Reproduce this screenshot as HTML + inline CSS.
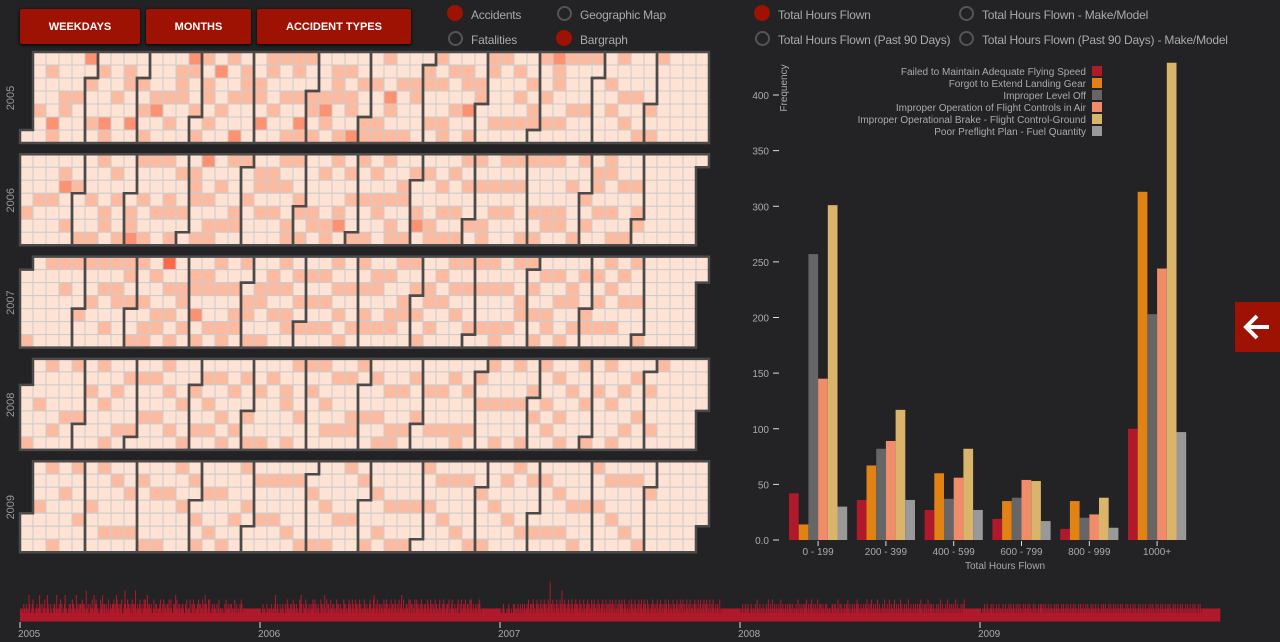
<!DOCTYPE html>
<html><head><meta charset="utf-8">
<style>
html,body{margin:0;padding:0;background:#232325;width:1280px;height:642px;overflow:hidden;font-family:"Liberation Sans",sans-serif;}
.btn{position:absolute;top:9px;height:35px;background:#9e1203;color:#fff;font-weight:bold;font-size:11px;display:flex;align-items:center;justify-content:center;border-radius:2px;box-shadow:0 1px 3px #000;}
.radio{position:absolute;font-size:12px;color:#aaa;letter-spacing:-0.2px;}
.radio i{position:absolute;left:-23px;top:-2px;width:13px;height:13px;border-radius:50%;box-sizing:border-box;}
.on i{background:#9e1203;width:16px;height:16px;left:-24px;top:-3px;}
.off i{border:2px solid #555;width:15px;height:15px;top:-2px;}
</style></head><body>
<div class="btn" style="left:20px;width:120px">WEEKDAYS</div>
<div class="btn" style="left:146px;width:105px">MONTHS</div>
<div class="btn" style="left:257px;width:154px">ACCIDENT TYPES</div>
<div class="radio on" style="left:471px;top:8px"><i></i>Accidents</div>
<div class="radio off" style="left:580px;top:8px"><i></i>Geographic Map</div>
<div class="radio off" style="left:471px;top:33px"><i></i>Fatalities</div>
<div class="radio on" style="left:580px;top:33px"><i></i>Bargraph</div>
<div class="radio on" style="left:778px;top:8px"><i></i>Total Hours Flown</div>
<div class="radio off" style="left:982px;top:8px"><i></i>Total Hours Flown - Make/Model</div>
<div class="radio off" style="left:778px;top:33px"><i></i>Total Hours Flown (Past 90 Days)</div>
<div class="radio off" style="left:982px;top:33px"><i></i>Total Hours Flown (Past 90 Days) - Make/Model</div>
<div style="position:absolute;left:1235px;top:302px;width:45px;height:50px;background:#9e1203;">
<svg width="45" height="50"><path d="M34 25H12M22 14L11 25L22 36" stroke="#fff" stroke-width="4" fill="none"/></svg></div>
<svg id="main" width="1280" height="642" style="position:absolute;left:0;top:0;pointer-events:none"></svg>
<script>
const years=[2005,2006,2007,2008,2009];
const dailyLevels=[
"2212132213212531123421122312252311322412153211321123312521232413112352211232312433221532132331432321622311322421523432211243251331232142132233423154321332411236322433213241332612322342131243422532322311242133212234123142321332412421133252421332123321132412224113241321232431322413253321424112321322131241221221132412322313221242131221324312",
"2112312211321221231221352132113212321132143221332142312321124353113224312132132243142312321143321352141332142231321243132132212431322134232142312433213423122143213221343122452132421331232142324312321423312432132412352142123321424131322413423213242312332142312423132241322134221324321233142123422132213411324213324123321424213212321324321",
"2112132111212321121132312213212312312321232421323143221342312342231432312432813241321342321432613243213242312432132432312431321432132431322413243213241321324132142313241324132142132413243214321321421342312432132413242134231242312132413223142132413213242312431232142321342132413241321342132412321342312421342132413241321421324212312321421",
"1212312132123211232122132142213122132121321421321421321321231242132123213213232131221321421321321323242132132421321321421313213212313212212133213321242131321213213242131213213213423121322132132421321342132132142131221321421231242132213421321321423121321321421231213213213213242131231321421323213212132132142131221321421321321321421321213213242",
"2112123121321212321321213212312212312132121321321231213213213212131232123213212132132121321323213213212312132121321321321213213212312312132123213212132132123121321321213213212312132121321321321213213212312312132123213212132132123121321321213213212312132121321321321213213212312312132123213212132132123121321321213213212312132132121321321"
];
const barCategories=["0 - 199","200 - 399","400 - 599","600 - 799","800 - 999","1000+"];
const seriesNames=["Failed to Maintain Adequate Flying Speed","Forgot to Extend Landing Gear","Improper Level Off","Improper Operation of Flight Controls in Air","Improper Operational Brake - Flight Control-Ground","Poor Preflight Plan - Fuel Quantity"];
const seriesSpeed=[42,36,27,19,10,100];
const seriesGear=[14,67,60,35,35,313];
const seriesLevelOff=[257,82,37,38,20,203];
const seriesControls=[145,89,56,54,23,244];
const seriesBrake=[301,117,82,53,38,429];
const seriesFuel=[30,36,27,17,11,97];
const yTicks=[0,50,100,150,200,250,300,350,400];
const yTickLabels=["0.0","50","100","150","200","250","300","350","400"];

const NS="http://www.w3.org/2000/svg";
const svg=document.getElementById('main');
function mk(tag,attrs,parent){const e=document.createElementNS(NS,tag);for(const k in attrs)e.setAttribute(k,attrs[k]);(parent||svg).appendChild(e);return e;}
function shade(v){return v<=2?"#fee2d4":v<=4?"#fcbba1":v<=6?"#fc9272":"#fb6a4a";}
const cs=13,calX=20;
const allDays=[];
years.forEach((yr,i)=>{
  const top=52+i*102.3;
  const g=mk('g',{transform:`translate(${calX},${top})`});
  
  
  const t=mk('text',{x:-calX+14,y:46,fill:'#999','font-size':11,'text-anchor':'middle',transform:`rotate(-90 ${-calX+14} 46)`},g);
  t.textContent=yr;
  
  
  const jan1=new Date(Date.UTC(yr,0,1));const off=jan1.getUTCDay();
  const ndays=(yr%4==0)?366:365;
  const str=dailyLevels[i];
  for(let d=0;d<ndays;d++){
    const v=d<str.length?+str[d]:2;
    allDays.push(v);
    const wd=(off+d)%7, wk=Math.floor((off+d)/7);
    const r=mk('rect',{x:wk*cs,y:wd*cs,width:cs,height:cs,fill:shade(v),stroke:'#ccc','stroke-width':1},g);
    
    
  }
  for(let m=0;m<12;m++){
    const t0=new Date(Date.UTC(yr,m,1)),t1=new Date(Date.UTC(yr,m+1,0));
    const doy=x=>Math.round((x-jan1)/864e5);
    const d0=t0.getUTCDay(),w0=Math.floor((off+doy(t0))/7),d1=t1.getUTCDay(),w1=Math.floor((off+doy(t1))/7);
    const p=mk('path',{d:`M${(w0+1)*cs},${d0*cs}H${w0*cs}V${7*cs}H${w1*cs}V${(d1+1)*cs}H${(w1+1)*cs}V0H${(w0+1)*cs}Z`,fill:'none',stroke:'#4a4a4a','stroke-width':2.5},g);
    
    
  }
});
// bar chart
const y0=540,pxPer=445/400;
const yS=v=>y0-v*pxPer;
const groupStart=789,groupStep=67.8,barW=9.7;
yTicks.forEach((tv,k)=>{
  const l=mk('line',{x1:773,x2:779,y1:yS(tv),y2:yS(tv),stroke:'#ddd','stroke-width':1});
  
  
  const t=mk('text',{x:769,y:yS(tv)+4,fill:'#aaa','font-size':10,'text-anchor':'end'});
  t.textContent=yTickLabels[k];
  
  
});
const yt=mk('text',{x:787,y:88,fill:'#aaa','font-size':10,'text-anchor':'middle',transform:'rotate(-90 787 88)'});
yt.textContent='Frequency';


const series=[seriesSpeed,seriesGear,seriesLevelOff,seriesControls,seriesBrake,seriesFuel];
const colors=["#b0182c","#e08214","#666666","#f08c6a","#d9b46a","#999999"];
barCategories.forEach((c,gi)=>{
  const gx=groupStart+gi*groupStep;
  series.forEach((s,si)=>{
    const r=mk('rect',{x:gx+si*barW,y:yS(s[gi]),width:barW,height:s[gi]*pxPer,fill:colors[si]});
    
    
  });
  const cx=gx+3*barW;
  const l=mk('line',{x1:cx,x2:cx,y1:541,y2:546,stroke:'#ddd'});
  
  
  const t=mk('text',{x:cx,y:555,fill:'#aaa','font-size':10,'text-anchor':'middle'});
  t.textContent=c;
  
  
});
const xt=mk('text',{x:1005,y:569,fill:'#aaa','font-size':10,'text-anchor':'middle'});
xt.textContent='Total Hours Flown';


seriesNames.forEach((n,si)=>{
  const yy=66+si*12;
  const r=mk('rect',{x:1092,y:yy,width:10,height:10,fill:colors[si]});
  
  
  const t=mk('text',{x:1086,y:yy+9,fill:'#aaa','font-size':10,'text-anchor':'end'});
  t.textContent=n;
  
  
});
// timeline
const tlBase=621.5,dx=1200/allDays.length;
let d='';
allDays.forEach((v,k)=>{const h=4+v*4.5;d+=`M${(20+k*dx).toFixed(2)},${tlBase}v${-h}h${(dx+0.35).toFixed(2)}v${h}z`;});
const tp=mk('path',{d:d,fill:'#b0182c'});


years.forEach((yr,i)=>{
  const x=20+i*240;
  const l=mk('line',{x1:x,x2:x,y1:622,y2:628,stroke:'#ddd'});
  
  
  const t=mk('text',{x:x-2,y:637,fill:'#aaa','font-size':10});
  t.textContent=yr;
  
  
});
</script>
</body></html>
